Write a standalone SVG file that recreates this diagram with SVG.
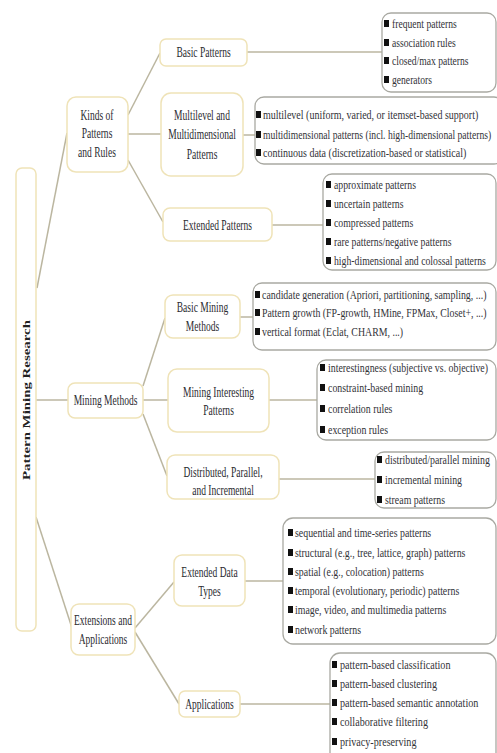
<svg xmlns="http://www.w3.org/2000/svg" width="497" height="753" viewBox="0 0 497 753">
<style>
.node{fill:#fff;stroke:#efe3b8;stroke-width:1.5}
.list{fill:#fff;stroke:#a9a9a2;stroke-width:1.3}
.conn{stroke:#bbb6a0;stroke-width:1.5;fill:none}
.nt{font-family:"Liberation Serif","Times New Roman",serif;font-size:14px;fill:#2b2b30;text-anchor:middle}
.lt{font-family:"Liberation Serif","Times New Roman",serif;font-size:13px;fill:#333338}
.b{fill:#111}
.root{font-family:"Liberation Serif","Times New Roman",serif;font-size:11px;font-weight:bold;fill:#222;text-anchor:middle}
</style>
<rect width="497" height="753" fill="#fff"/>
<g id="connectors">
<line class="conn" x1="37" y1="288" x2="67" y2="133"/>
<line class="conn" x1="36" y1="400" x2="68" y2="400"/>
<line class="conn" x1="36" y1="517" x2="72" y2="628"/>
<line class="conn" x1="128" y1="115" x2="160" y2="53"/>
<line class="conn" x1="128" y1="134" x2="161" y2="134"/>
<line class="conn" x1="128" y1="160" x2="163" y2="222"/>
<line class="conn" x1="247" y1="52" x2="382" y2="52"/>
<line class="conn" x1="243" y1="135" x2="255" y2="135"/>
<line class="conn" x1="272" y1="225" x2="323" y2="225"/>
<line class="conn" x1="143" y1="386" x2="165" y2="318"/>
<line class="conn" x1="143" y1="400" x2="168" y2="400"/>
<line class="conn" x1="143" y1="414" x2="167" y2="476"/>
<line class="conn" x1="240" y1="317" x2="253" y2="317"/>
<line class="conn" x1="269" y1="400" x2="317" y2="400"/>
<line class="conn" x1="279" y1="479" x2="375" y2="479"/>
<line class="conn" x1="135" y1="628" x2="174" y2="582"/>
<line class="conn" x1="135" y1="632" x2="179" y2="704"/>
<line class="conn" x1="245" y1="581" x2="283" y2="581"/>
<line class="conn" x1="240" y1="704" x2="330" y2="704"/>
</g>
<g id="root">
<rect class="node" x="16" y="168" width="20" height="463" rx="6"/>
<text class="root" transform="translate(30 400) rotate(-90)" x="0" y="0" textLength="160" lengthAdjust="spacingAndGlyphs">Pattern Mining Research</text>
</g>
<g id="kinds">
<rect class="node" x="67" y="97" width="61" height="75" rx="9"/>
<text class="nt" transform="translate(97 119.5) scale(0.68 1)">Kinds of</text>
<text class="nt" transform="translate(97 138) scale(0.68 1)">Patterns</text>
<text class="nt" transform="translate(97 156.5) scale(0.68 1)">and Rules</text>
</g>
<g id="mining-methods">
<rect class="node" x="68" y="383" width="75" height="35" rx="7"/>
<text class="nt" transform="translate(105.5 404.5) scale(0.68 1)">Mining Methods</text>
</g>
<g id="extensions">
<rect class="node" x="71" y="604" width="64" height="51" rx="8"/>
<text class="nt" transform="translate(103 624.5) scale(0.68 1)">Extensions and</text>
<text class="nt" transform="translate(103 644) scale(0.68 1)">Applications</text>
</g>
<g id="basic-patterns">
<rect class="node" x="160" y="39" width="87" height="27" rx="6"/>
<text class="nt" transform="translate(203.5 57) scale(0.68 1)">Basic Patterns</text>
</g>
<g id="multilevel">
<rect class="node" x="161" y="93" width="82" height="83" rx="10"/>
<text class="nt" transform="translate(202 119.5) scale(0.68 1)">Multilevel and</text>
<text class="nt" transform="translate(202 139) scale(0.68 1)">Multidimensional</text>
<text class="nt" transform="translate(202 158.5) scale(0.68 1)">Patterns</text>
</g>
<g id="extended-patterns">
<rect class="node" x="163" y="208" width="109" height="33" rx="7"/>
<text class="nt" transform="translate(217.5 229.5) scale(0.68 1)">Extended Patterns</text>
</g>
<g id="basic-mining">
<rect class="node" x="165" y="295" width="75" height="43" rx="8"/>
<text class="nt" transform="translate(202.5 311.5) scale(0.68 1)">Basic Mining</text>
<text class="nt" transform="translate(202.5 330.5) scale(0.68 1)">Methods</text>
</g>
<g id="mining-interesting">
<rect class="node" x="168" y="369" width="101" height="63" rx="9"/>
<text class="nt" transform="translate(218.5 396.5) scale(0.68 1)">Mining Interesting</text>
<text class="nt" transform="translate(218.5 414.5) scale(0.68 1)">Patterns</text>
</g>
<g id="distributed">
<rect class="node" x="167" y="455" width="112" height="44" rx="8"/>
<text class="nt" transform="translate(223 476.5) scale(0.68 1)">Distributed, Parallel,</text>
<text class="nt" transform="translate(223 494.5) scale(0.68 1)">and Incremental</text>
</g>
<g id="extended-data">
<rect class="node" x="174" y="555" width="71" height="51" rx="8"/>
<text class="nt" transform="translate(209.5 576.5) scale(0.68 1)">Extended Data</text>
<text class="nt" transform="translate(209.5 595.5) scale(0.68 1)">Types</text>
</g>
<g id="applications">
<rect class="node" x="179" y="691" width="61" height="26" rx="6"/>
<text class="nt" transform="translate(209.5 708.5) scale(0.68 1)">Applications</text>
</g>
<g id="list-basic-patterns">
<rect class="list" x="382" y="13" width="114" height="79" rx="9"/>
<rect class="b" x="384" y="20" width="5" height="7"/><text class="lt" transform="translate(392 28) scale(0.74 1)">frequent patterns</text>
<rect class="b" x="384" y="39" width="5" height="7"/><text class="lt" transform="translate(392 47) scale(0.74 1)">association rules</text>
<rect class="b" x="384" y="57" width="5" height="7"/><text class="lt" transform="translate(392 65) scale(0.74 1)">closed/max patterns</text>
<rect class="b" x="384" y="76" width="5" height="7"/><text class="lt" transform="translate(392 84) scale(0.74 1)">generators</text>
</g>
<g id="list-multilevel">
<rect class="list" x="255" y="97" width="248" height="67" rx="9"/>
<rect class="b" x="256" y="111" width="5" height="7"/><text class="lt" transform="translate(263 119) scale(0.77 1)">multilevel (uniform, varied, or itemset-based support)</text>
<rect class="b" x="256" y="131" width="5" height="7"/><text class="lt" transform="translate(263 139) scale(0.74 1)">multidimensional patterns (incl. high-dimensional patterns)</text>
<rect class="b" x="256" y="149" width="5" height="7"/><text class="lt" transform="translate(263 157) scale(0.77 1)">continuous data (discretization-based or statistical)</text>
</g>
<g id="list-extended-patterns">
<rect class="list" x="323" y="174" width="173" height="96" rx="9"/>
<rect class="b" x="326" y="181" width="5" height="7"/><text class="lt" transform="translate(334 189) scale(0.75 1)">approximate patterns</text>
<rect class="b" x="326" y="200" width="5" height="7"/><text class="lt" transform="translate(334 208) scale(0.75 1)">uncertain patterns</text>
<rect class="b" x="326" y="219" width="5" height="7"/><text class="lt" transform="translate(334 227) scale(0.75 1)">compressed patterns</text>
<rect class="b" x="326" y="238" width="5" height="7"/><text class="lt" transform="translate(334 246) scale(0.75 1)">rare patterns/negative patterns</text>
<rect class="b" x="326" y="257" width="5" height="7"/><text class="lt" transform="translate(334 265) scale(0.75 1)">high-dimensional and colossal patterns</text>
</g>
<g id="list-basic-mining">
<rect class="list" x="253" y="283" width="243" height="67" rx="9"/>
<rect class="b" x="255" y="291" width="5" height="7"/><text class="lt" transform="translate(262 299) scale(0.76 1)">candidate generation (Apriori, partitioning, sampling, ...)</text>
<rect class="b" x="255" y="309" width="5" height="7"/><text class="lt" transform="translate(262 317) scale(0.76 1)">Pattern growth (FP-growth, HMine, FPMax, Closet+, ...)</text>
<rect class="b" x="255" y="328" width="5" height="7"/><text class="lt" transform="translate(262 336) scale(0.76 1)">vertical format (Eclat, CHARM, ...)</text>
</g>
<g id="list-mining-interesting">
<rect class="list" x="317" y="360" width="179" height="80" rx="9"/>
<rect class="b" x="320" y="364" width="5" height="7"/><text class="lt" transform="translate(328 372) scale(0.76 1)">interestingness (subjective vs. objective)</text>
<rect class="b" x="320" y="384" width="5" height="7"/><text class="lt" transform="translate(328 392) scale(0.76 1)">constraint-based mining</text>
<rect class="b" x="320" y="405" width="5" height="7"/><text class="lt" transform="translate(328 413) scale(0.76 1)">correlation rules</text>
<rect class="b" x="320" y="426" width="5" height="7"/><text class="lt" transform="translate(328 434) scale(0.76 1)">exception rules</text>
</g>
<g id="list-distributed">
<rect class="list" x="375" y="452" width="121" height="56" rx="9"/>
<rect class="b" x="377" y="456" width="5" height="7"/><text class="lt" transform="translate(385 464) scale(0.76 1)">distributed/parallel mining</text>
<rect class="b" x="377" y="476" width="5" height="7"/><text class="lt" transform="translate(385 484) scale(0.76 1)">incremental mining</text>
<rect class="b" x="377" y="496" width="5" height="7"/><text class="lt" transform="translate(385 504) scale(0.76 1)">stream patterns</text>
</g>
<g id="list-extended-data">
<rect class="list" x="283" y="518" width="213" height="126" rx="10"/>
<rect class="b" x="288" y="529" width="5" height="7"/><text class="lt" transform="translate(295 537) scale(0.76 1)">sequential and time-series patterns</text>
<rect class="b" x="288" y="549" width="5" height="7"/><text class="lt" transform="translate(295 557) scale(0.76 1)">structural (e.g., tree, lattice, graph) patterns</text>
<rect class="b" x="288" y="568" width="5" height="7"/><text class="lt" transform="translate(295 576) scale(0.76 1)">spatial (e.g., colocation) patterns</text>
<rect class="b" x="288" y="587" width="5" height="7"/><text class="lt" transform="translate(295 595) scale(0.76 1)">temporal (evolutionary, periodic) patterns</text>
<rect class="b" x="288" y="606" width="5" height="7"/><text class="lt" transform="translate(295 614) scale(0.76 1)">image, video, and multimedia patterns</text>
<rect class="b" x="288" y="626" width="5" height="7"/><text class="lt" transform="translate(295 634) scale(0.76 1)">network patterns</text>
</g>
<g id="list-applications">
<rect class="list" x="330" y="653" width="166" height="110" rx="10"/>
<rect class="b" x="332" y="661" width="5" height="7"/><text class="lt" transform="translate(340 669) scale(0.78 1)">pattern-based classification</text>
<rect class="b" x="332" y="680" width="5" height="7"/><text class="lt" transform="translate(340 688) scale(0.78 1)">pattern-based clustering</text>
<rect class="b" x="332" y="699" width="5" height="7"/><text class="lt" transform="translate(340 707) scale(0.78 1)">pattern-based semantic annotation</text>
<rect class="b" x="332" y="718" width="5" height="7"/><text class="lt" transform="translate(340 726) scale(0.78 1)">collaborative filtering</text>
<rect class="b" x="332" y="738" width="5" height="7"/><text class="lt" transform="translate(340 746) scale(0.78 1)">privacy-preserving</text>
</g>
</svg>
